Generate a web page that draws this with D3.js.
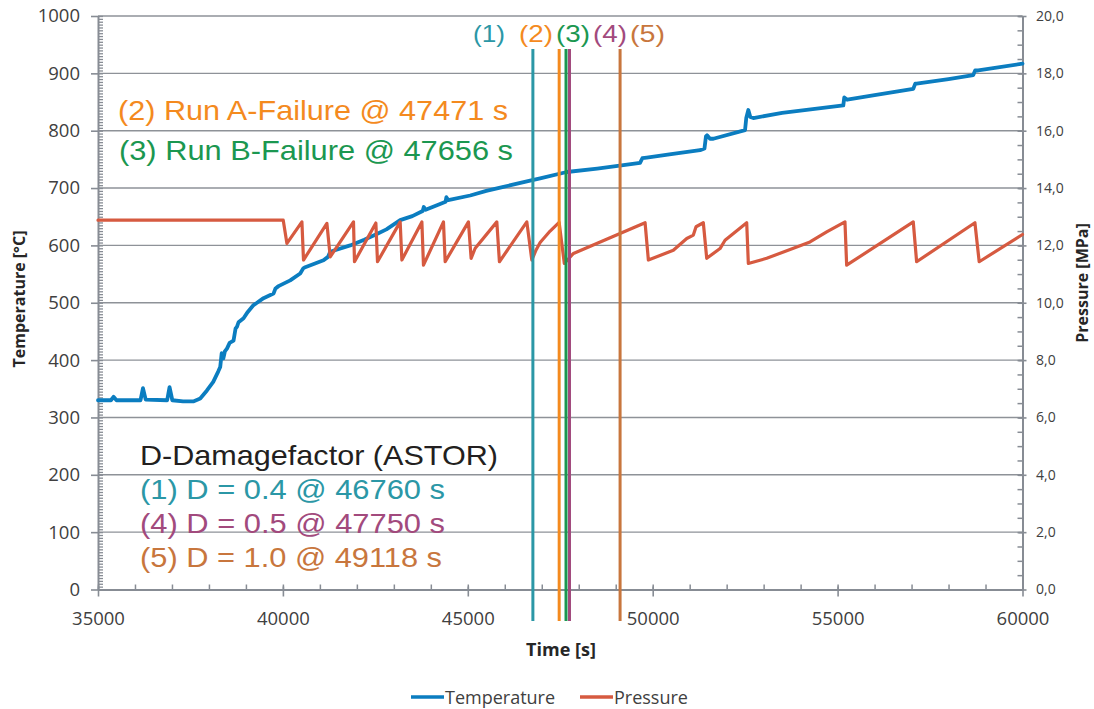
<!DOCTYPE html>
<html>
<head>
<meta charset="utf-8">
<script src="https://cdn.jsdelivr.net/npm/d3@7"></script>
<style>
  html, body { margin: 0; padding: 0; background: #ffffff; }
  svg { display: block; font-family: "Open Sans", "Noto Sans", sans-serif; }
</style>
</head>
<body>
<svg id="chart" width="1094" height="709"></svg>
<script>
// Temperature record: time [s] and temperature [°C]
const tempTime = [35000, 35350, 35420, 35500, 36150, 36216, 36290, 36870, 36935, 37010,
  37300, 37576, 37765, 37946, 38116, 38250, 38305, 38345, 38390, 38430,
  38487, 38560, 38665, 38720, 38757, 38800, 38936, 39050, 39206, 39300,
  39476, 39746, 39800, 39882, 40198, 40468, 40550, 40604, 41098, 41220,
  41279, 41820, 42200, 42541, 42800, 43171, 43500, 43780, 43810, 43860,
  44200, 44400, 44420, 44470, 45064, 45500, 45964, 46685, 46956, 47677,
  48500, 49207, 49658, 49720, 49839, 50500, 51280, 51400, 51440, 51470,
  51550, 51640, 52497, 52530, 52586, 52640, 52721, 53500, 55154, 55180,
  55260, 56000, 57046, 57100, 57137, 58000, 58668, 58720, 58803, 60000];
const tempValue = [330, 330, 336, 330, 330, 351, 331, 330, 353, 330,
  328, 328, 333, 347, 362, 380, 388, 412, 403, 415,
  420, 430, 434, 455, 458, 466, 473, 484, 496, 500,
  508, 516, 525, 529, 539, 551, 560, 562, 574, 580,
  589, 600, 610, 620, 628, 644, 651, 660, 667, 662,
  671, 676, 684, 679, 687, 695, 702, 713, 717, 728,
  734, 740, 744, 752, 753, 759, 766, 769, 790, 792,
  786, 786, 801, 822, 836, 824, 822, 831, 844, 858,
  854, 862, 873, 882, 882, 890, 897, 905, 905, 917];

// Pressure record: time [s] and pressure [MPa]
const pressTime = [35000, 40009, 40109, 40514, 40557, 41190, 41279, 41909, 41936, 42514,
  42558, 43171, 43217, 43758, 43801, 44342, 44388, 45017, 45090, 45200,
  45785, 45855, 46596, 46731, 46850, 46956, 47226, 47470, 47610, 47856,
  49794, 49883, 50558, 50921, 51099, 51172, 51369, 51461, 51821, 51956,
  52542, 52586, 53083, 54254, 54705, 55199, 55245, 57046, 57137, 58713,
  58829, 60000];
const pressValue = [12.88, 12.88, 12.07, 12.82, 11.49, 12.77, 11.60, 12.82, 11.43, 12.78,
  11.43, 12.82, 11.49, 12.82, 11.31, 12.82, 11.43, 12.82, 11.55, 11.90,
  12.82, 11.43, 12.82, 11.49, 11.85, 12.10, 12.50, 12.80, 11.37, 11.72,
  12.79, 11.49, 11.83, 12.24, 12.36, 12.65, 12.79, 11.55, 11.89, 12.18,
  12.79, 11.37, 11.55, 12.12, 12.47, 12.82, 11.31, 12.82, 11.43, 12.79,
  11.43, 12.38];

// Event markers (time [s])
const eventLabels = ["(1)", "(2)", "(3)", "(4)", "(5)"];
const eventTimes = [46760, 47471, 47656, 47750, 49118];

// Axis ticks
const timeTicks = [35000, 40000, 45000, 50000, 55000, 60000];
const tempTicks = [0, 100, 200, 300, 400, 500, 600, 700, 800, 900, 1000];
const pressTicks = [0, 2, 4, 6, 8, 10, 12, 14, 16, 18, 20];

// Annotation texts
const failureNotes = ["(2) Run A-Failure @ 47471 s", "(3) Run B-Failure @ 47656 s"];
const damageTitle = "D-Damagefactor (ASTOR)";
const damageNotes = ["(1) D = 0.4 @ 46760 s", "(4) D = 0.5 @ 47750 s", "(5) D = 1.0 @ 49118 s"];
const seriesNames = ["Temperature", "Pressure"];

// ---- drawing ----
const svg = d3.select("#chart");
const eventColor = { "(1)": "#2b97a6", "(2)": "#f48a1e", "(3)": "#1b9750", "(4)": "#a24a7d", "(5)": "#c8763d" };
const tempColor = "#0b7dc0", pressColor = "#d65a40";
const axisColor = "#878c94", gridColor = "#8e9298", tickText = "#404040";

const plotL = 98, plotR = 1022.5, plotT = 16, plotB = 589.5;
const x = d3.scaleLinear().domain([35000, 60000]).range([plotL, plotR]);
const yT = d3.scaleLinear().domain([0, 1000]).range([plotB, plotT]);
const yP = d3.scaleLinear().domain([0, 20]).range([plotB, plotT]);

// horizontal gridlines
svg.append("g").selectAll("line").data(tempTicks.filter(d => d > 0)).join("line")
  .attr("x1", plotL).attr("x2", plotR)
  .attr("y1", d => yT(d)).attr("y2", d => yT(d))
  .attr("stroke", gridColor).attr("stroke-width", 1.4);

function styleAxis(g, fontSize) {
  g.select(".domain").attr("stroke", axisColor).attr("stroke-width", 2);
  g.selectAll(".tick line").attr("stroke", axisColor).attr("stroke-width", 1.6);
  g.selectAll(".tick text").attr("fill", tickText).attr("font-size", fontSize)
    .attr("font-family", '"Open Sans", sans-serif');
}

// minor ticks (left, right, bottom)
const minorL = svg.append("g").attr("transform", `translate(${plotL},0)`)
  .call(d3.axisRight(yT).tickValues(d3.range(0, 1001, 5)).tickSize(5).tickFormat(""));
minorL.select(".domain").remove();
minorL.selectAll(".tick line").attr("stroke", axisColor).attr("stroke-width", 1.3);

const minorR = svg.append("g").attr("transform", `translate(${plotR},0)`)
  .call(d3.axisLeft(yP).tickValues(d3.range(0, 20.01, 0.5)).tickSize(5).tickFormat(""));
minorR.select(".domain").remove();
minorR.selectAll(".tick line").attr("stroke", axisColor).attr("stroke-width", 1.5);

const minorB = svg.append("g").attr("transform", `translate(0,${plotB})`)
  .call(d3.axisTop(x).tickValues(d3.range(35000, 60001, 1000)).tickSize(5).tickFormat(""));
minorB.select(".domain").remove();
minorB.selectAll(".tick line").attr("stroke", axisColor).attr("stroke-width", 1.5);

// left axis (temperature)
const axL = svg.append("g").attr("transform", `translate(${plotL},0)`)
  .call(d3.axisLeft(yT).tickValues(tempTicks).tickSize(7).tickSizeOuter(0).tickPadding(11)
    .tickFormat(d3.format("d")));
styleAxis(axL, 18.5);

// right axis (pressure)
const axR = svg.append("g").attr("transform", `translate(${plotR},0)`)
  .call(d3.axisRight(yP).tickValues(pressTicks).tickSize(4).tickSizeOuter(0).tickPadding(9.5)
    .tickFormat(d => d3.format(".1f")(d).replace(".", ",")));
styleAxis(axR, 14);
axR.selectAll(".tick line").attr("x1", -4);

// bottom axis (time)
const axB = svg.append("g").attr("transform", `translate(0,${plotB})`)
  .call(d3.axisBottom(x).tickValues(timeTicks).tickSize(7).tickSizeOuter(0).tickFormat(d3.format("d")));
styleAxis(axB, 18.5);
axB.selectAll(".tick line").attr("y1", -3);
axB.selectAll(".tick text").attr("y", 35.5).attr("dy", 0);

// axis titles
svg.append("text").attr("transform", "translate(25,299) rotate(-90)")
  .attr("text-anchor", "middle").attr("font-weight", "bold").attr("font-size", 16)
  .attr("fill", "#262626").text("Temperature [°C]");
svg.append("text").attr("transform", "translate(1088,283) rotate(-90)")
  .attr("text-anchor", "middle").attr("font-weight", "bold").attr("font-size", 16)
  .attr("fill", "#262626").text("Pressure [MPa]");
svg.append("text").attr("x", 561).attr("y", 656)
  .attr("text-anchor", "middle").attr("font-weight", "bold").attr("font-size", 18)
  .attr("fill", "#262626").text("Time [s]");

// data lines
const tempLine = d3.line().x(d => x(d[0])).y(d => yT(d[1]));
const pressLine = d3.line().x(d => x(d[0])).y(d => yP(d[1]));

svg.append("path").datum(d3.zip(tempTime, tempValue))
  .attr("d", tempLine).attr("fill", "none").attr("stroke", tempColor)
  .attr("stroke-width", 3.8).attr("stroke-linejoin", "round").attr("stroke-linecap", "round");
svg.append("path").datum(d3.zip(pressTime, pressValue))
  .attr("d", pressLine).attr("fill", "none").attr("stroke", pressColor)
  .attr("stroke-width", 3.2).attr("stroke-linejoin", "round").attr("stroke-linecap", "round");

// event markers
svg.append("g").selectAll("line").data(d3.zip(eventLabels, eventTimes)).join("line")
  .attr("x1", d => x(d[1])).attr("x2", d => x(d[1]))
  .attr("y1", 49).attr("y2", 621)
  .attr("stroke", d => eventColor[d[0]]).attr("stroke-width", 3);

// marker labels along the top
const labelX = [473, 519, 556, 593, 630];
const labelW = [32, 34, 34, 34, 35];
svg.append("g").selectAll("text").data(eventLabels).join("text")
  .attr("x", (d, i) => labelX[i]).attr("y", 42)
  .attr("font-family", '"Liberation Sans", Arial, sans-serif').attr("font-size", 24)
  .attr("textLength", (d, i) => labelW[i]).attr("lengthAdjust", "spacingAndGlyphs")
  .attr("fill", d => eventColor[d]).text(d => d);

// annotation blocks
const noteFont = '"Liberation Sans", Arial, sans-serif';
const failX = [118, 119], failY = [120, 160], failW = [390, 394];
failureNotes.forEach((t, i) => {
  svg.append("text").attr("x", failX[i]).attr("y", failY[i])
    .attr("font-family", noteFont).attr("font-size", 28)
    .attr("textLength", failW[i]).attr("lengthAdjust", "spacingAndGlyphs")
    .attr("fill", eventColor[t.slice(0, 3)]).text(t);
});

svg.append("text").attr("x", 140).attr("y", 465)
  .attr("font-family", noteFont).attr("font-size", 28)
  .attr("textLength", 358).attr("lengthAdjust", "spacingAndGlyphs")
  .attr("fill", "#231f20").text(damageTitle);

const dmgY = [499, 533, 567], dmgW = [305, 305, 302];
damageNotes.forEach((t, i) => {
  svg.append("text").attr("x", 140).attr("y", dmgY[i])
    .attr("font-family", noteFont).attr("font-size", 28)
    .attr("textLength", dmgW[i]).attr("lengthAdjust", "spacingAndGlyphs")
    .attr("fill", eventColor[t.slice(0, 3)]).text(t);
});

// legend
const legendX = [411, 580];
const legendColors = [tempColor, pressColor];
seriesNames.forEach((name, i) => {
  svg.append("line").attr("x1", legendX[i]).attr("x2", legendX[i] + 33)
    .attr("y1", 697).attr("y2", 697)
    .attr("stroke", legendColors[i]).attr("stroke-width", 3.6);
  svg.append("text").attr("x", legendX[i] + 34).attr("y", 703.5)
    .attr("font-size", 18).attr("fill", tickText).text(name);
});
</script>
</body>
</html>
